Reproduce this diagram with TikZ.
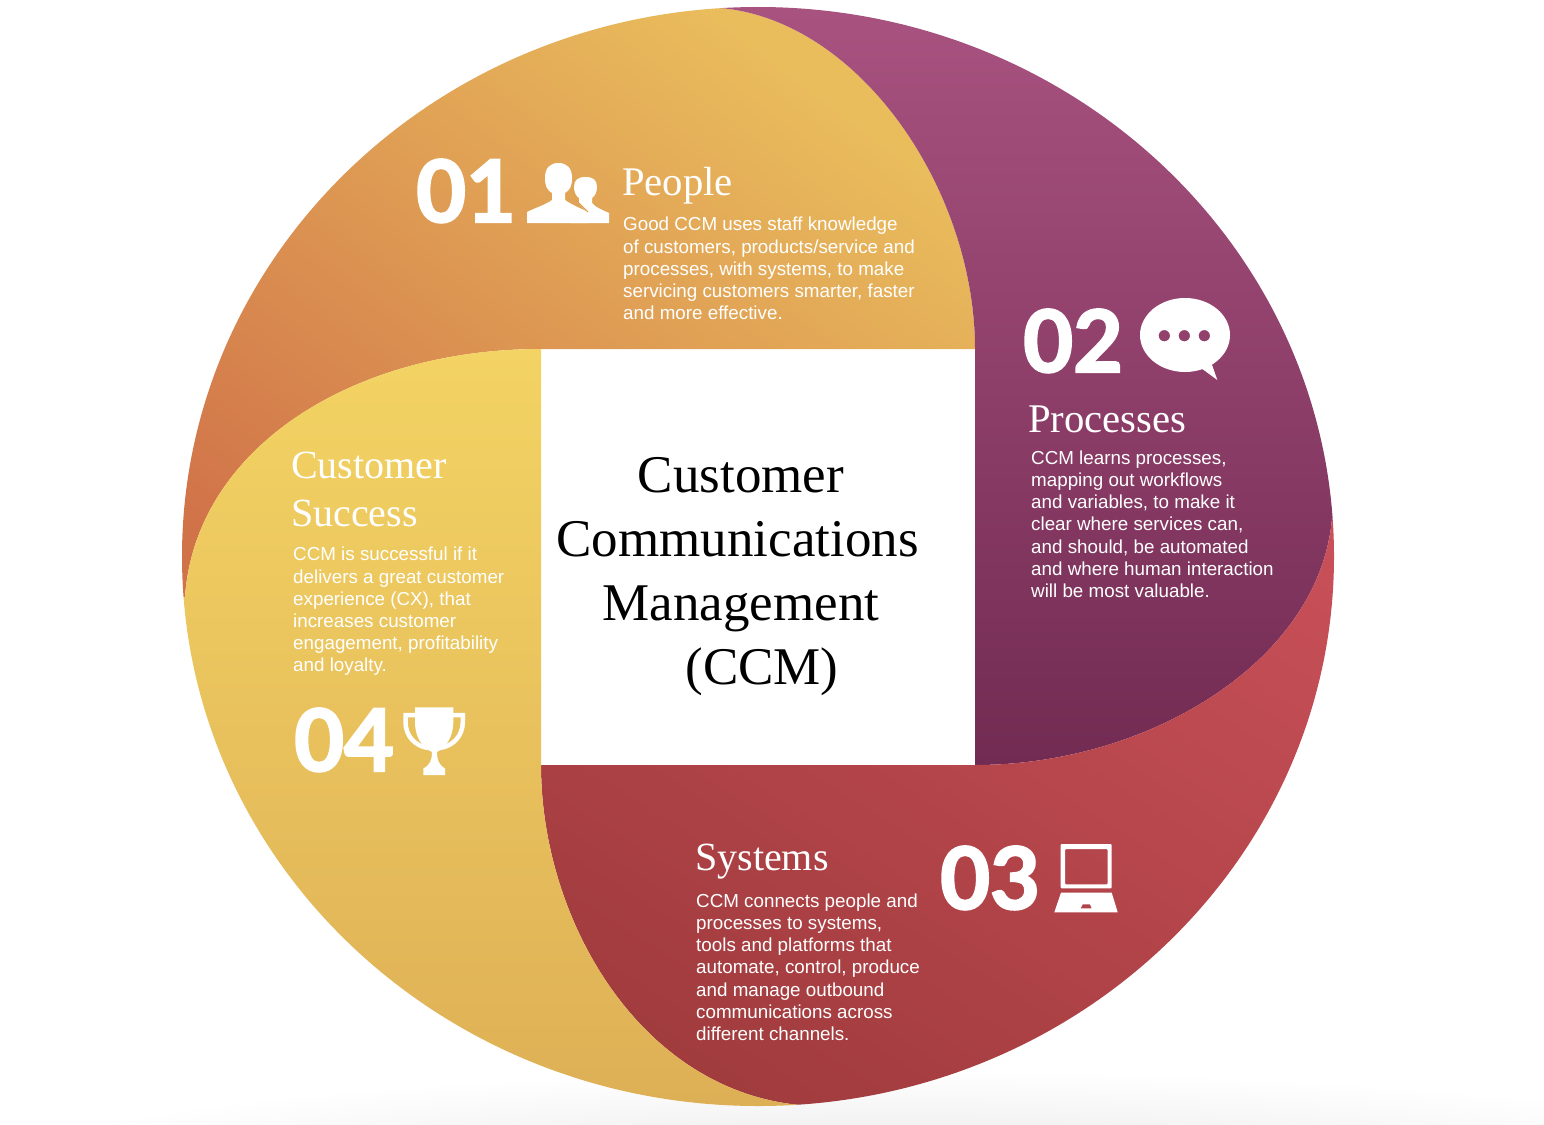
\documentclass[tikz,border=0pt]{standalone}
\usepackage{fontspec}
\setmainfont{Liberation Sans}
\newfontfamily\headfont{Liberation Serif}
\newfontfamily\numfont[FakeBold=2.5]{Lato Bold}
\definecolor{oA}{HTML}{E9BC5C}\definecolor{oB}{HTML}{D17349}
\definecolor{pA}{HTML}{A85280}\definecolor{pB}{HTML}{722B52}
\definecolor{rA}{HTML}{C95059}\definecolor{rB}{HTML}{9C393A}
\definecolor{yA}{HTML}{F3D363}\definecolor{yB}{HTML}{DEB056}
\definecolor{groundgrey}{HTML}{E9E9E9}
% 1 px = 0.025 bp in a 4000 px shading box
\pgfdeclareverticalshading{shOrange}{100bp}{color(0bp)=(oA); color(39.8bp)=(oA); color(57.8bp)=(oB); color(100bp)=(oB)}
\pgfdeclareverticalshading{shPurple}{100bp}{color(0bp)=(pA); color(36.3bp)=(pA); color(55.2bp)=(pB); color(100bp)=(pB)}
\pgfdeclareverticalshading{shRed}{100bp}{color(0bp)=(rA); color(41.85bp)=(rA); color(64bp)=(rB); color(100bp)=(rB)}
\pgfdeclareverticalshading{shYellow}{100bp}{color(0bp)=(yA); color(44.8bp)=(yA); color(63.6bp)=(yB); color(100bp)=(yB)}
\newcommand{\gradpart}[3]{\begin{scope}\clip #1;\shade[shading=#2,shading angle=#3] (-242,-443) rectangle (1758,1557);\end{scope}}
\tikzset{
  bodytext/.style={inner sep=0pt,anchor=north west,align=left,text=white,font=\fontsize{18.8}{22.2}\selectfont},
  headtext/.style={inner sep=0pt,anchor=north west,align=left,text=white,font=\headfont\fontsize{40}{48}\selectfont},
  headwide/.style={headtext,font=\headfont\fontsize{40.7}{48}\selectfont},
  numtext/.style={inner sep=0pt,anchor=base west,text=white,font=\numfont\fontsize{86}{86}\selectfont},
  centertext/.style={inner sep=0pt,anchor=north,align=center,text=black,font=\headfont\fontsize{53}{64}\selectfont},
  iconfill/.style={fill=white,draw=none}
}
\begin{document}
\begin{tikzpicture}[x=1pt,y=-1pt]
\useasboundingbox (0,0) rectangle (1544,1124);
\shade[inner color=groundgrey,outer color=white] (900,1165) ellipse [x radius=900,y radius=95];
\begin{scope}
\clip (758,556.5) ellipse [x radius=576,y radius=549.5];
\gradpart{(975,349) -- (541,349) .. controls (350,349) and (195,450) .. (185,597) -- (100,600) -- (100,-50) -- (720,-50) -- (720,8) .. controls (860,20) and (975,190) .. (975,349) -- cycle}{shOrange}{143.13}
\gradpart{(720,8) .. controls (860,20) and (975,190) .. (975,349) -- (975,765) .. controls (1150,765) and (1320,660) .. (1332,518) -- (1450,518) -- (1450,-50) -- (720,-50) -- cycle}{shPurple}{180}
\gradpart{(1332,518) -- (1450,518) -- (1450,1200) -- (800,1200) -- (800,1105) .. controls (640,1090) and (541,920) .. (541,765) -- (975,765) .. controls (1150,765) and (1320,660) .. (1332,518) -- cycle}{shRed}{148}
\gradpart{(541,349) .. controls (350,349) and (195,450) .. (185,597) -- (100,600) -- (100,1200) -- (800,1200) -- (800,1105) .. controls (640,1090) and (541,920) .. (541,765) -- cycle}{shYellow}{180}
\end{scope}
% centre
\node[centertext] (center) at (741,457) {Customer\\[0pt]\hspace*{-7pt}Communications\\Management\\\hspace*{42pt}(CCM)};
% numbers
\node[numtext] (n1) at (416,222) {01};
\node[numtext] (n2) at (1023,372) {02};
\node[numtext] (n3) at (940,909) {03};
\node[numtext] (n4) at (294,771) {04};
% headings
\node[headwide] (h1) at (622,167.5) {People};
\node[headwide] (h2) at (1028,405.5) {Processes};
\node[headtext] (h3) at (695,844) {Systems};
\node[headtext] (h4) at (291,452) {Customer\\Success};
% bodies
\node[bodytext] (b1) at (623,217) {Good CCM uses staff knowledge\\of customers, products/service and\\processes, with systems, to make\\servicing customers smarter, faster\\and more effective.};
\node[bodytext] (b2) at (1031,450.5) {CCM learns processes,\\mapping out workflows\\and variables, to make it\\clear where services can,\\and should, be automated\\and where human interaction\\will be most valuable.};
\node[bodytext] (b3) at (696,893.5) {CCM connects people and\\processes to systems,\\tools and platforms that\\automate, control, produce\\and manage outbound\\communications across\\different channels.};
\node[bodytext] (b4) at (293,547) {CCM is successful if it\\delivers a great customer\\experience (CX), that\\increases customer\\engagement, profitability\\and loyalty.};
% people icon
\fill[iconfill] (527,223) -- (527,212) .. controls (535,208) and (545,205) .. (552,200) -- (552,193) .. controls (547,190) and (545,186) .. (545,178) .. controls (545,168) and (550,163) .. (558.5,163) .. controls (567,163) and (572,168) .. (572,178) .. controls (572,186) and (570,190) .. (565,193) -- (565,200) .. controls (572,205) and (580,208) .. (588,212) -- (588,223) -- cycle;
\fill[iconfill] (570,223) -- (588,212) .. controls (584,209) and (581,206) .. (579,203) -- (579,198) .. controls (576,196) and (574,192) .. (574,187) .. controls (574,180) and (578,177) .. (585.5,177) .. controls (593,177) and (597,180) .. (597,187) .. controls (597,192) and (595,196) .. (592,198) -- (592,203) .. controls (595,207) and (602,210) .. (609,213) -- (609,223) -- cycle;
\draw[color=oA!60!oB,line width=0.8pt] (575,199) -- (588,212);
\draw[color=oA!60!oB,line width=0.8pt] (574,180) .. controls (572,184) and (572,190) .. (575,199);
% bubble icon
\fill[iconfill,even odd rule] (1185,335) ellipse [x radius=45,y radius=37]
  (1164.3,335.7) circle [radius=5.7] (1184.3,335.7) circle [radius=5.7] (1204.3,335.7) circle [radius=5.7];
\fill[iconfill] (1201,368) -- (1217.3,380) -- (1211,362) -- cycle;
% laptop icon
\fill[iconfill,even odd rule,rounded corners=1pt] (1060.7,844) rectangle (1111.7,888.3) (1065,849) rectangle (1107.7,884.3);
\fill[iconfill,even odd rule] (1061,892.7) -- (1111.7,892.7) -- (1117.7,912.3) -- (1054.3,912.3) -- cycle
  (1082.7,904.3) -- (1090,904.3) -- (1091.7,908.3) -- (1080.7,908.3) -- cycle;
% trophy icon
\fill[iconfill] (415,707.3) -- (453.3,707.3) -- (453.3,722) .. controls (453.3,738) and (445,748) .. (437,752) .. controls (437,760) and (439,765) .. (445,768.5) -- (445,775) -- (423.3,775) -- (423.3,768.5) .. controls (430,765) and (432,760) .. (432,752) .. controls (423,748) and (415,738) .. (415,722) -- cycle;
\draw[white,line width=4.5pt] (417,715) -- (405.5,715) -- (405.5,722) .. controls (405.5,736) and (415,746) .. (428,748);
\draw[white,line width=4.5pt] (451,715) -- (462.8,715) -- (462.8,722) .. controls (462.8,736) and (453,746) .. (440,748);
\end{tikzpicture}
\end{document}
